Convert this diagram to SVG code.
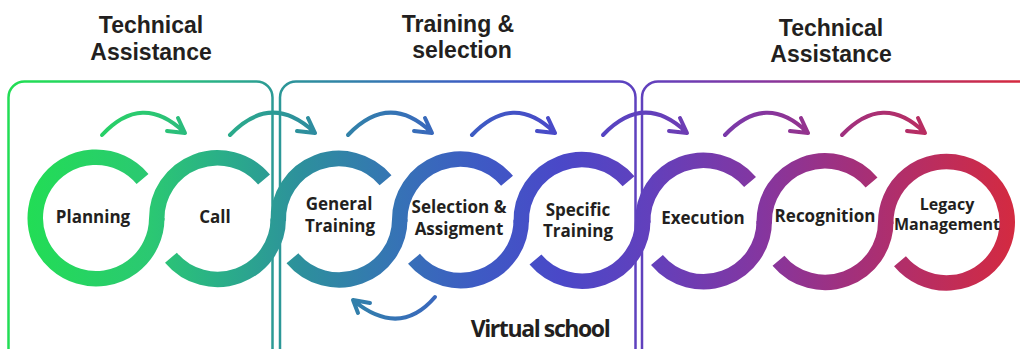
<svg xmlns="http://www.w3.org/2000/svg" width="1020" height="349" viewBox="0 0 1020 349">
<defs>
<linearGradient id="g" gradientUnits="userSpaceOnUse" x1="27" y1="0" x2="1016" y2="0">
<stop offset="0" stop-color="#22dd55"/>
<stop offset="0.124" stop-color="#2bc872"/>
<stop offset="0.195" stop-color="#2aaf88"/>
<stop offset="0.276" stop-color="#2d909c"/>
<stop offset="0.377" stop-color="#3672b6"/>
<stop offset="0.458" stop-color="#3e5ac4"/>
<stop offset="0.539" stop-color="#4a48c8"/>
<stop offset="0.63" stop-color="#6240bc"/>
<stop offset="0.741" stop-color="#8436a0"/>
<stop offset="0.832" stop-color="#a2307c"/>
<stop offset="1" stop-color="#d42a40"/>
</linearGradient>
<style>
.box{fill:none;stroke:url(#g);stroke-width:2.5}
.ring{fill:none;stroke:url(#g);stroke-width:15.5}
.arw{fill:none;stroke:url(#g);stroke-width:4;stroke-linecap:round;stroke-linejoin:round}
.lbl{font-family:"Open Sans","Liberation Sans",sans-serif;font-weight:700;font-size:17px;fill:#231f20;text-anchor:middle}
.hdr{font-family:"Liberation Sans",Arial,sans-serif;font-weight:700;font-size:23px;fill:#231f20;text-anchor:middle}
.vs{font-family:"Open Sans","Liberation Sans",sans-serif;font-weight:700;font-size:23px;letter-spacing:-1.4px;fill:#231f20;text-anchor:middle}
</style>
</defs>
<g id="boxes">
<rect class="box" x="8.5" y="81.5" width="264" height="300" rx="16"/>
<rect class="box" x="280" y="81.5" width="355.5" height="300" rx="16"/>
<rect class="box" x="642" y="81.5" width="400" height="300" rx="16"/>
</g>
<g id="headers">
<text class="hdr" x="151" y="33">Technical</text>
<text class="hdr" x="151" y="60">Assistance</text>
<text class="hdr" x="458" y="32">Training &amp;</text>
<text class="hdr" x="462" y="58">selection</text>
<text class="hdr" x="831" y="36">Technical</text>
<text class="hdr" x="831" y="62">Assistance</text>
<text class="vs" x="540" y="337">Virtual school</text>
</g>
<g id="node-planning">
<path class="ring" d="M142.54 178.95 A60.75 60.75 0 1 0 156.75 218"/>
<text class="lbl" x="93" y="223">Planning</text>
</g>
<g id="node-call">
<path class="ring" d="M156.79 220.72 A60.75 60.75 0 0 1 264.04 179.55"/>
<path class="ring" d="M170.96 257.65 A60.75 60.75 0 0 0 278.25 218.6"/>
<text class="lbl" x="215" y="223">Call</text>
</g>
<g id="node-general-training">
<path class="ring" d="M278.29 221.32 A60.75 60.75 0 0 1 385.54 180.15"/>
<path class="ring" d="M292.46 258.25 A60.75 60.75 0 0 0 399.75 219.2"/>
<text class="lbl" x="339" y="210">General</text>
<text class="lbl" x="340" y="232">Training</text>
</g>
<g id="node-selection">
<path class="ring" d="M399.79 221.92 A60.75 60.75 0 0 1 507.04 180.75"/>
<path class="ring" d="M413.96 258.85 A60.75 60.75 0 0 0 521.25 219.8"/>
<text class="lbl" x="459" y="213">Selection &amp;</text>
<text class="lbl" x="459" y="234.5">Assigment</text>
</g>
<g id="node-specific-training">
<path class="ring" d="M521.29 222.52 A60.75 60.75 0 0 1 628.54 181.35"/>
<path class="ring" d="M535.46 259.45 A60.75 60.75 0 0 0 642.75 220.4"/>
<text class="lbl" x="578" y="216">Specific</text>
<text class="lbl" x="578" y="237">Training</text>
</g>
<g id="node-execution">
<path class="ring" d="M642.79 223.12 A60.75 60.75 0 0 1 750.04 181.95"/>
<path class="ring" d="M656.96 260.05 A60.75 60.75 0 0 0 764.25 221"/>
<text class="lbl" x="703" y="224">Execution</text>
</g>
<g id="node-recognition">
<path class="ring" d="M764.29 223.72 A60.75 60.75 0 0 1 871.54 182.55"/>
<path class="ring" d="M778.46 260.65 A60.75 60.75 0 0 0 885.75 221.6"/>
<text class="lbl" x="825" y="222">Recognition</text>
</g>
<g id="node-legacy">
<path class="ring" d="M885.79 224.32 A60.75 60.75 0 1 1 899.96 261.25"/>
<text class="lbl" x="947" y="210" style="font-size:16px">Legacy</text>
<text class="lbl" x="947" y="230" style="font-size:16px">Management</text>
</g>
<g id="connectors">
<path class="arw" d="M102 135 Q142 92 184 132 M185 133 L178 118 M185 133 L167 131"/>
<path class="arw" d="M230 135 Q271 92 314 132 M315 133 L308 118 M315 133 L297 131"/>
<path class="arw" d="M348 135 Q389 92 431 132 M432 133 L425 118 M432 133 L414 131"/>
<path class="arw" d="M472 135 Q513 92 554 132 M555 133 L548 118 M555 133 L537 131"/>
<path class="arw" d="M603 135 Q644 92 686 132 M687 133 L680 118 M687 133 L669 131"/>
<path class="arw" d="M725 135 Q766 92 807 132 M808 133 L801 118 M808 133 L790 131"/>
<path class="arw" d="M842 135 Q883 92 924 132 M925 133 L918 118 M925 133 L907 131"/>
<path class="arw" d="M435 297 Q400 338 354 301 M353 300 L370 303 M353 300 L358 313"/>
</g>
</svg>
